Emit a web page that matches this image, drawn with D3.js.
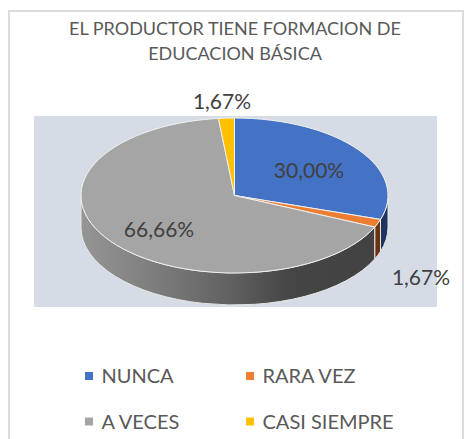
<!DOCTYPE html>
<html>
<head>
<meta charset="utf-8">
<script src="https://cdn.jsdelivr.net/npm/d3@7"></script>
<style>
  html, body { margin: 0; padding: 0; background: #fff; }
  svg { display: block; }
  text { font-family: Lato, "Open Sans", sans-serif; fill: #595959; }
</style>
</head>
<body>
<svg id="chart" width="464" height="439"></svg>
<script>
  const categories = ["NUNCA", "RARA VEZ", "A VECES", "CASI SIEMPRE"];
  const values = [30.00, 1.67, 66.66, 1.67];
  const titleLines = ["EL PRODUCTOR TIENE FORMACION DE", "EDUCACION BÁSICA"];

  const topColors = ["#4472c4", "#ed7d31", "#a5a5a5", "#ffc000"];
  const wallColors = ["#1f3560", "#6b3410", "url(#wallGrey)", "#8a6800"];

  const svg = d3.select("#chart");

  const cx = 234.5, cy = 195.5, rx = 153.5, ry = 77.5, depth = 32;

  // chart frame, runs off the bottom of the picture
  svg.append("rect")
    .attr("x", 9).attr("y", 11)
    .attr("width", 454).attr("height", 440)
    .attr("fill", "#fff")
    .attr("stroke", "#dcdcdc")
    .attr("stroke-width", 2);

  // plot area
  svg.append("rect")
    .attr("x", 34).attr("y", 116)
    .attr("width", 403).attr("height", 191)
    .attr("fill", "#d6dce5");

  const grad = svg.append("defs").append("linearGradient")
    .attr("id", "wallGrey")
    .attr("gradientUnits", "userSpaceOnUse")
    .attr("x1", cx - rx).attr("x2", cx + rx)
    .attr("y1", 0).attr("y2", 0);
  [[0, "#959595"], [0.25, "#7c7c7c"], [0.5, "#5f5f5f"], [0.68, "#454545"], [1, "#424242"]]
    .forEach(s => grad.append("stop").attr("offset", s[0]).attr("stop-color", s[1]));

  const arcs = d3.pie().sort(null)(values);

  const pt = (a, drop) => [cx + rx * Math.sin(a), cy - ry * Math.cos(a) + drop];

  function wallPath(a0, a1) {
    const p0 = pt(a0, 0), p1 = pt(a1, 0), p2 = pt(a1, depth), p3 = pt(a0, depth);
    return `M${p0}A${rx},${ry} 0 0 1 ${p1}L${p2}A${rx},${ry} 0 0 0 ${p3}Z`;
  }

  // only the front half of the rim shows
  const frontStart = Math.PI / 2, frontEnd = Math.PI * 1.5;
  const walls = arcs
    .map((d, i) => ({
      i,
      a0: Math.max(d.startAngle, frontStart),
      a1: Math.min(d.endAngle, frontEnd)
    }))
    .filter(d => d.a1 > d.a0);

  svg.append("g").selectAll("path")
    .data(walls)
    .enter().append("path")
      .attr("d", d => wallPath(d.a0, d.a1))
      .attr("fill", d => wallColors[d.i])
      .attr("stroke", "#e6e6e6")
      .attr("stroke-width", 1);

  const arc = d3.arc().innerRadius(0).outerRadius(rx);

  svg.append("g")
    .attr("transform", `translate(${cx},${cy}) scale(1,${ry / rx})`)
    .selectAll("path")
    .data(arcs)
    .enter().append("path")
      .attr("d", arc)
      .attr("fill", (d, i) => topColors[i])
      .attr("stroke", "#f0f0f0")
      .attr("stroke-width", 1)
      .attr("vector-effect", "non-scaling-stroke");

  // data labels
  const fmt = d3.formatLocale({ decimal: ",", thousands: ".", grouping: [3], currency: ["", ""] }).format(".2f");
  const labelAt = [[309, 170], [421, 277], [159, 229], [222, 101]];

  svg.append("g").selectAll("text")
    .data(values)
    .enter().append("text")
      .attr("x", (d, i) => labelAt[i][0])
      .attr("y", (d, i) => labelAt[i][1])
      .attr("dy", "0.36em")
      .attr("text-anchor", "middle")
      .attr("font-size", 21)
      .style("fill", "#404040")
      .text(d => fmt(d) + "%");

  // title
  svg.append("g").selectAll("text")
    .data(titleLines)
    .enter().append("text")
      .attr("x", 235)
      .attr("y", (d, i) => 35 + i * 25)
      .attr("text-anchor", "middle")
      .attr("font-size", 18)
      .text(d => d);

  // legend, two rows of two
  const legendX = d3.scaleOrdinal().domain([0, 1]).range([85, 246]);
  const legendY = d3.scaleOrdinal().domain([0, 1]).range([376, 421.5]);

  const item = svg.append("g").selectAll("g")
    .data(categories)
    .enter().append("g")
      .attr("transform", (d, i) => `translate(${legendX(i % 2)},${legendY(Math.floor(i / 2))})`);

  item.append("rect")
    .attr("x", 0).attr("y", -4)
    .attr("width", 8).attr("height", 8)
    .attr("fill", (d, i) => topColors[i]);

  item.append("text")
    .attr("x", 16.5)
    .attr("dy", "0.36em")
    .attr("font-size", 20)
    .text(d => d);
</script>
</body>
</html>
